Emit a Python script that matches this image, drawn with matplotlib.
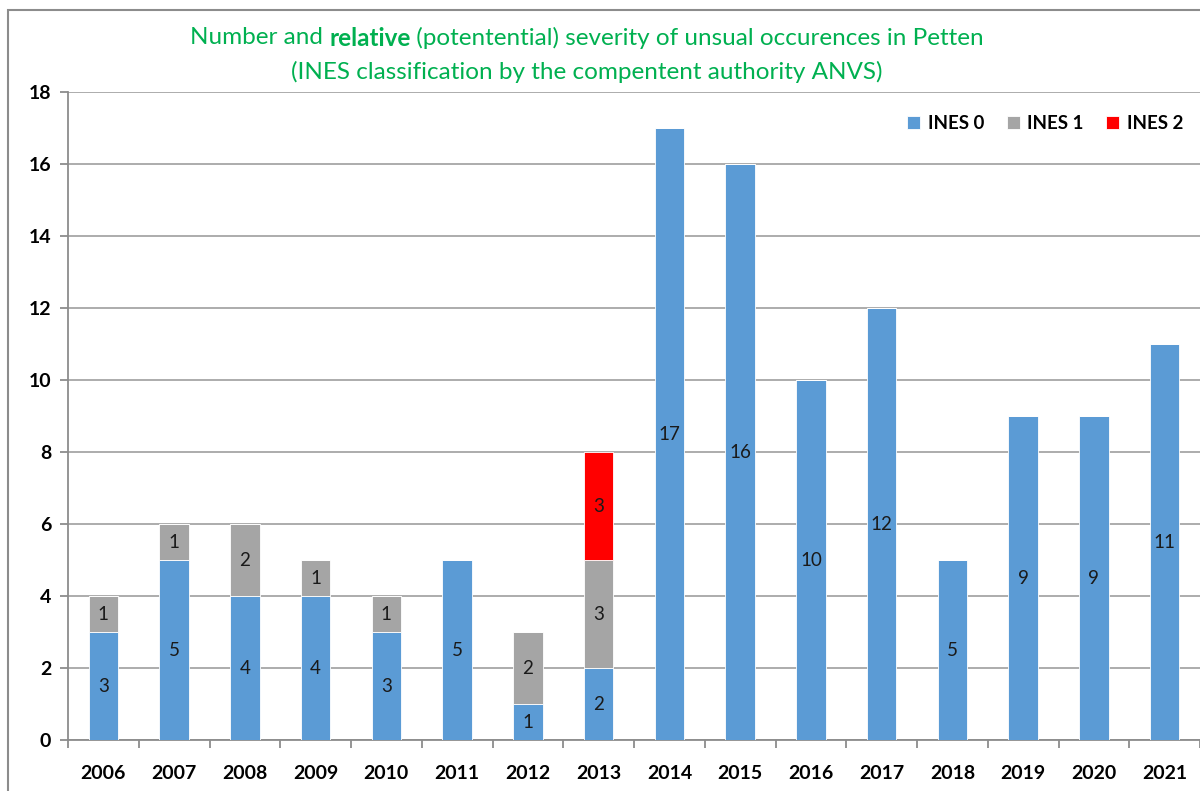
import matplotlib.pyplot as plt
import numpy as np
from matplotlib.patches import Rectangle

years = ["2006", "2007", "2008", "2009", "2010", "2011", "2012", "2013",
         "2014", "2015", "2016", "2017", "2018", "2019", "2020", "2021"]
ines0 = [3, 5, 4, 4, 3, 5, 1, 2, 17, 16, 10, 12, 5, 9, 9, 11]
ines1 = [1, 1, 2, 1, 1, 0, 2, 3, 0, 0, 0, 0, 0, 0, 0, 0]
ines2 = [0, 0, 0, 0, 0, 0, 0, 3, 0, 0, 0, 0, 0, 0, 0, 0]

series = [("INES 0", ines0, "#5B9BD5"),
          ("INES 1", ines1, "#A5A5A5"),
          ("INES 2", ines2, "#FF0000")]

plt.rcParams["font.family"] = ["Lato", "DejaVu Sans"]

W, H = 1200, 791
fig = plt.figure(figsize=(W / 100, H / 100), dpi=100)
ax = fig.add_axes([68 / W, 1 - 740 / H, (1200 - 68) / W, (740 - 92) / H])

# outer chart border
fig.patches.append(Rectangle((8 / W, -0.1), 1.2, 1 - 10 / H + 0.1,
                             transform=fig.transFigure, fill=False,
                             edgecolor="#8C8C8C", lw=1.5))

x = np.arange(len(years))
bottom = np.zeros(len(years))
handles = []
for name, vals, col in series:
    vals = np.array(vals)
    h = ax.bar(x, vals, 0.42, bottom=bottom, color=col, label=name,
               edgecolor="white", linewidth=0.6, zorder=3)
    handles.append(h)
    for xi, v, b in zip(x, vals, bottom):
        if v > 0:
            ax.text(xi, b + v / 2, str(v), ha="center", va="center",
                    fontsize=13.5, color="#1a1a1a", zorder=4)
    bottom += vals

ax.set_xlim(-0.5, len(years) - 0.5)
ax.set_ylim(0, 18)
ax.set_yticks(range(0, 19, 2))
ax.set_yticklabels([str(v) for v in range(0, 19, 2)], fontsize=14,
                   fontweight="bold")
ax.set_xticks(x)
ax.set_xticklabels(years, fontsize=14, fontweight="bold")
ax.set_xticks(np.arange(-0.5, len(years), 1), minor=True)
ax.tick_params(axis="x", which="major", length=0, pad=18)
ax.tick_params(axis="x", which="minor", length=6, color="#8C8C8C",
               width=1.3, direction="out")
ax.tick_params(axis="y", length=6, color="#8C8C8C", width=1.3, pad=6)

ax.grid(axis="y", color="#A6A6A6", lw=1.3, zorder=0)
for s in ["top", "right"]:
    ax.spines[s].set_visible(False)
for s in ["left", "bottom"]:
    ax.spines[s].set_color("#8C8C8C")
    ax.spines[s].set_linewidth(1.3)

ax.legend(handles=handles, loc="upper right", ncol=3, frameon=False,
          prop={"size": 13.5, "weight": "bold"}, handlelength=0.7,
          handleheight=0.7, handletextpad=0.4, columnspacing=1.2,
          bbox_to_anchor=(1.0, 0.99))

# title, with "relative" in bold
green = "#00B050"
fig.canvas.draw()
r = fig.canvas.get_renderer()
parts = [("Number and ", "normal"), ("relative", "bold"),
         (" (potentential) severity of unsual occurences in Petten", "normal")]
widths = []
texts = []
for s, w in parts:
    t = fig.text(0, 1 - 38 / H, s, fontsize=17.5, fontweight=w, color=green,
                 va="center", ha="left")
    texts.append(t)
    widths.append(t.get_window_extent(r).width)
xpos = 587 - sum(widths) / 2
for t, wd in zip(texts, widths):
    t.set_x(xpos / W)
    xpos += wd
fig.text(587 / W, 1 - 72 / H,
         "(INES classification by the compentent authority ANVS)",
         fontsize=17.5, color=green, ha="center", va="center")

fig.savefig("out.png", dpi=100)
